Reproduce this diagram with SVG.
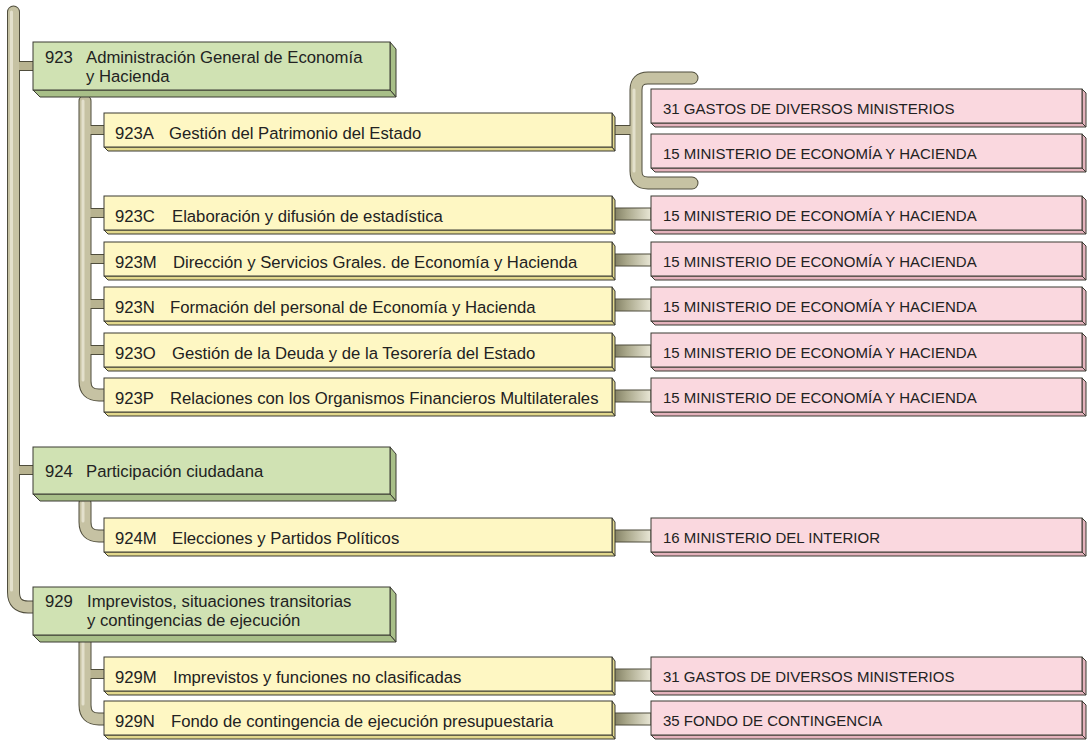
<svg xmlns="http://www.w3.org/2000/svg" width="1092" height="740" viewBox="0 0 1092 740">
<defs>
<linearGradient id="conn" x1="0" y1="0" x2="1" y2="0">
<stop offset="0" stop-color="#7e7c60"/>
<stop offset="0.35" stop-color="#a8a689"/>
<stop offset="1" stop-color="#e9e7d6"/>
</linearGradient>
<style>
text{font-family:"Liberation Sans",Arial,Helvetica,sans-serif;fill:#222}
.g{font-size:16.7px}
.y{font-size:16.7px}
.p{font-size:15px}
.bo{fill:none;stroke:#4f4d3c;stroke-width:13;stroke-linecap:round;stroke-linejoin:round}
.bf{fill:none;stroke:#c6c2a3;stroke-width:11;stroke-linecap:round;stroke-linejoin:round}
.bh{fill:none;stroke:#e3e0cc;stroke-width:3;stroke-linecap:round}
.so{fill:none;stroke:#4f4d3c;stroke-width:10}
.sf{fill:none;stroke:#b8b390;stroke-width:8}
.gf{fill:#d0e2b3;stroke:#3a3a32;stroke-width:1}
.gb{fill:#a8bf88;stroke:#3a3a32;stroke-width:1;stroke-linejoin:round}
.yf{fill:#fef7c3;stroke:#3a3a32;stroke-width:1}
.yb{fill:#e2d88c;stroke:#3a3a32;stroke-width:1;stroke-linejoin:round}
.pf{fill:#fad8df;stroke:#3a3a32;stroke-width:1}
.pb{fill:#e4b2bc;stroke:#3a3a32;stroke-width:1;stroke-linejoin:round}
.cn{fill:url(#conn);stroke:#4f4d3c;stroke-width:1}
</style>
</defs>

<g id="connectors">
  <path class="so" d="M18 66H36M18 470H36"/>
  <path class="so" d="M90 130H107M90 213H107M90 259H107M90 304H107M90 350H107M90 674H107"/>
  <path class="so" d="M612 130H632"/>
  <path class="bo" d="M13.5 12V592Q13.5 607 28 607H40"/>
  <path class="bo" d="M85 101V381Q85 395 99 395H110"/>
  <path class="bo" d="M85 503V522Q85 536 99 536H110"/>
  <path class="bo" d="M85 642V705Q85 719 99 719H110"/>
  <path class="bo" d="M692 78H648Q636 78 636 90V171Q636 183 648 183H692"/>
  <path class="sf" d="M16 66H36M16 470H36"/>
  <path class="sf" d="M88 130H107M88 213H107M88 259H107M88 304H107M88 350H107M88 674H107"/>
  <path class="sf" d="M612 130H634"/>
  <path class="bf" d="M13.5 12V592Q13.5 607 28 607H40"/>
  <path class="bf" d="M85 101V381Q85 395 99 395H110"/>
  <path class="bf" d="M85 503V522Q85 536 99 536H110"/>
  <path class="bf" d="M85 642V705Q85 719 99 719H110"/>
  <path class="bf" d="M692 78H648Q636 78 636 90V171Q636 183 648 183H692"/>
  <path class="bh" d="M11.5 12V590M83 101V380M83 503V521M83 642V704M634 90V171"/>
  <rect class="cn" x="613" y="208" width="38" height="12"/>
  <rect class="cn" x="613" y="254" width="38" height="12"/>
  <rect class="cn" x="613" y="299" width="38" height="12"/>
  <rect class="cn" x="613" y="345" width="38" height="12"/>
  <rect class="cn" x="613" y="390" width="38" height="12"/>
  <rect class="cn" x="613" y="530" width="38" height="12"/>
  <rect class="cn" x="613" y="669" width="38" height="12"/>
  <rect class="cn" x="613" y="713" width="38" height="12"/>
</g>

<g id="n923">
  <path class="gb" d="M390 42L396 49V97L390 90Z"/>
  <path class="gb" d="M33 90H390L396 97H40Z"/>
  <rect class="gf" x="33" y="42" width="357" height="48"/>
  <text class="g" x="45" y="63">923</text>
  <text class="g" x="86" y="63">Administración General de Economía</text>
  <text class="g" x="86" y="82">y Hacienda</text>
</g>
<g id="n924">
  <path class="gb" d="M390 447L396 454V501L390 494Z"/>
  <path class="gb" d="M33 494H390L396 501H40Z"/>
  <rect class="gf" x="33" y="447" width="357" height="47"/>
  <text class="g" x="45" y="477">924</text>
  <text class="g" x="86" y="477">Participación ciudadana</text>
</g>
<g id="n929">
  <path class="gb" d="M390 587L396 594V642L390 635Z"/>
  <path class="gb" d="M33 635H390L396 642H40Z"/>
  <rect class="gf" x="33" y="587" width="357" height="48"/>
  <text class="g" x="45" y="607">929</text>
  <text class="g" x="87" y="607">Imprevistos, situaciones transitorias</text>
  <text class="g" x="87" y="626">y contingencias de ejecución</text>
</g>

<g id="n923A">
  <path class="yb" d="M612 113L615 117V151L612 147Z"/><path class="yb" d="M104 147H612L615 151H108Z"/>
  <rect class="yf" x="104" y="113" width="508" height="34"/>
  <text class="y" x="115" y="138.5">923A</text><text class="y" x="169" y="138.5">Gestión del Patrimonio del Estado</text>
</g>
<g id="n923C">
  <path class="yb" d="M612 196L615 200V234L612 230Z"/><path class="yb" d="M104 230H612L615 234H108Z"/>
  <rect class="yf" x="104" y="196" width="508" height="34"/>
  <text class="y" x="115" y="221.5">923C</text><text class="y" x="172" y="221.5">Elaboración y difusión de estadística</text>
</g>
<g id="n923M">
  <path class="yb" d="M612 242L615 246V280L612 276Z"/><path class="yb" d="M104 276H612L615 280H108Z"/>
  <rect class="yf" x="104" y="242" width="508" height="34"/>
  <text class="y" x="115" y="267.5">923M</text><text class="y" x="173" y="267.5">Dirección y Servicios Grales. de Economía y Hacienda</text>
</g>
<g id="n923N">
  <path class="yb" d="M612 287L615 291V325L612 321Z"/><path class="yb" d="M104 321H612L615 325H108Z"/>
  <rect class="yf" x="104" y="287" width="508" height="34"/>
  <text class="y" x="115" y="312.5">923N</text><text class="y" x="170" y="312.5">Formación del personal de Economía y Hacienda</text>
</g>
<g id="n923O">
  <path class="yb" d="M612 333L615 337V371L612 367Z"/><path class="yb" d="M104 367H612L615 371H108Z"/>
  <rect class="yf" x="104" y="333" width="508" height="34"/>
  <text class="y" x="115" y="358.5">923O</text><text class="y" x="172" y="358.5">Gestión de la Deuda y de la Tesorería del Estado</text>
</g>
<g id="n923P">
  <path class="yb" d="M612 378L615 382V416L612 412Z"/><path class="yb" d="M104 412H612L615 416H108Z"/>
  <rect class="yf" x="104" y="378" width="508" height="34"/>
  <text class="y" x="115" y="403.5">923P</text><text class="y" x="170" y="403.5">Relaciones con los Organismos Financieros Multilaterales</text>
</g>
<g id="n924M">
  <path class="yb" d="M612 518L615 522V556L612 552Z"/><path class="yb" d="M104 552H612L615 556H108Z"/>
  <rect class="yf" x="104" y="518" width="508" height="34"/>
  <text class="y" x="115" y="543.5">924M</text><text class="y" x="172" y="543.5">Elecciones y Partidos Políticos</text>
</g>
<g id="n929M">
  <path class="yb" d="M612 657L615 661V695L612 691Z"/><path class="yb" d="M104 691H612L615 695H108Z"/>
  <rect class="yf" x="104" y="657" width="508" height="34"/>
  <text class="y" x="115" y="682.5">929M</text><text class="y" x="173" y="682.5">Imprevistos y funciones no clasificadas</text>
</g>
<g id="n929N">
  <path class="yb" d="M612 701L615 705V739L612 735Z"/><path class="yb" d="M104 735H612L615 739H108Z"/>
  <rect class="yf" x="104" y="701" width="508" height="34"/>
  <text class="y" x="115" y="726.5">929N</text><text class="y" x="171" y="726.5">Fondo de contingencia de ejecución presupuestaria</text>
</g>

<g id="p31a">
  <path class="pb" d="M1082 89L1086 93V127L1082 123Z"/><path class="pb" d="M651 123H1082L1086 127H655Z"/>
  <rect class="pf" x="651" y="89" width="431" height="34"/>
  <text class="p" x="663" y="114">31 GASTOS DE DIVERSOS MINISTERIOS</text>
</g>
<g id="p15a">
  <path class="pb" d="M1082 134L1086 138V172L1082 168Z"/><path class="pb" d="M651 168H1082L1086 172H655Z"/>
  <rect class="pf" x="651" y="134" width="431" height="34"/>
  <text class="p" x="663" y="159">15 MINISTERIO DE ECONOMÍA Y HACIENDA</text>
</g>
<g id="p15c">
  <path class="pb" d="M1082 196L1086 200V234L1082 230Z"/><path class="pb" d="M651 230H1082L1086 234H655Z"/>
  <rect class="pf" x="651" y="196" width="431" height="34"/>
  <text class="p" x="663" y="221">15 MINISTERIO DE ECONOMÍA Y HACIENDA</text>
</g>
<g id="p15m">
  <path class="pb" d="M1082 242L1086 246V280L1082 276Z"/><path class="pb" d="M651 276H1082L1086 280H655Z"/>
  <rect class="pf" x="651" y="242" width="431" height="34"/>
  <text class="p" x="663" y="267">15 MINISTERIO DE ECONOMÍA Y HACIENDA</text>
</g>
<g id="p15n">
  <path class="pb" d="M1082 287L1086 291V325L1082 321Z"/><path class="pb" d="M651 321H1082L1086 325H655Z"/>
  <rect class="pf" x="651" y="287" width="431" height="34"/>
  <text class="p" x="663" y="312">15 MINISTERIO DE ECONOMÍA Y HACIENDA</text>
</g>
<g id="p15o">
  <path class="pb" d="M1082 333L1086 337V371L1082 367Z"/><path class="pb" d="M651 367H1082L1086 371H655Z"/>
  <rect class="pf" x="651" y="333" width="431" height="34"/>
  <text class="p" x="663" y="358">15 MINISTERIO DE ECONOMÍA Y HACIENDA</text>
</g>
<g id="p15p">
  <path class="pb" d="M1082 378L1086 382V416L1082 412Z"/><path class="pb" d="M651 412H1082L1086 416H655Z"/>
  <rect class="pf" x="651" y="378" width="431" height="34"/>
  <text class="p" x="663" y="403">15 MINISTERIO DE ECONOMÍA Y HACIENDA</text>
</g>
<g id="p16">
  <path class="pb" d="M1082 518L1086 522V556L1082 552Z"/><path class="pb" d="M651 552H1082L1086 556H655Z"/>
  <rect class="pf" x="651" y="518" width="431" height="34"/>
  <text class="p" x="663" y="543">16 MINISTERIO DEL INTERIOR</text>
</g>
<g id="p31b">
  <path class="pb" d="M1082 657L1086 661V695L1082 691Z"/><path class="pb" d="M651 691H1082L1086 695H655Z"/>
  <rect class="pf" x="651" y="657" width="431" height="34"/>
  <text class="p" x="663" y="682">31 GASTOS DE DIVERSOS MINISTERIOS</text>
</g>
<g id="p35">
  <path class="pb" d="M1082 701L1086 705V739L1082 735Z"/><path class="pb" d="M651 735H1082L1086 739H655Z"/>
  <rect class="pf" x="651" y="701" width="431" height="34"/>
  <text class="p" x="663" y="726">35 FONDO DE CONTINGENCIA</text>
</g>
</svg>
